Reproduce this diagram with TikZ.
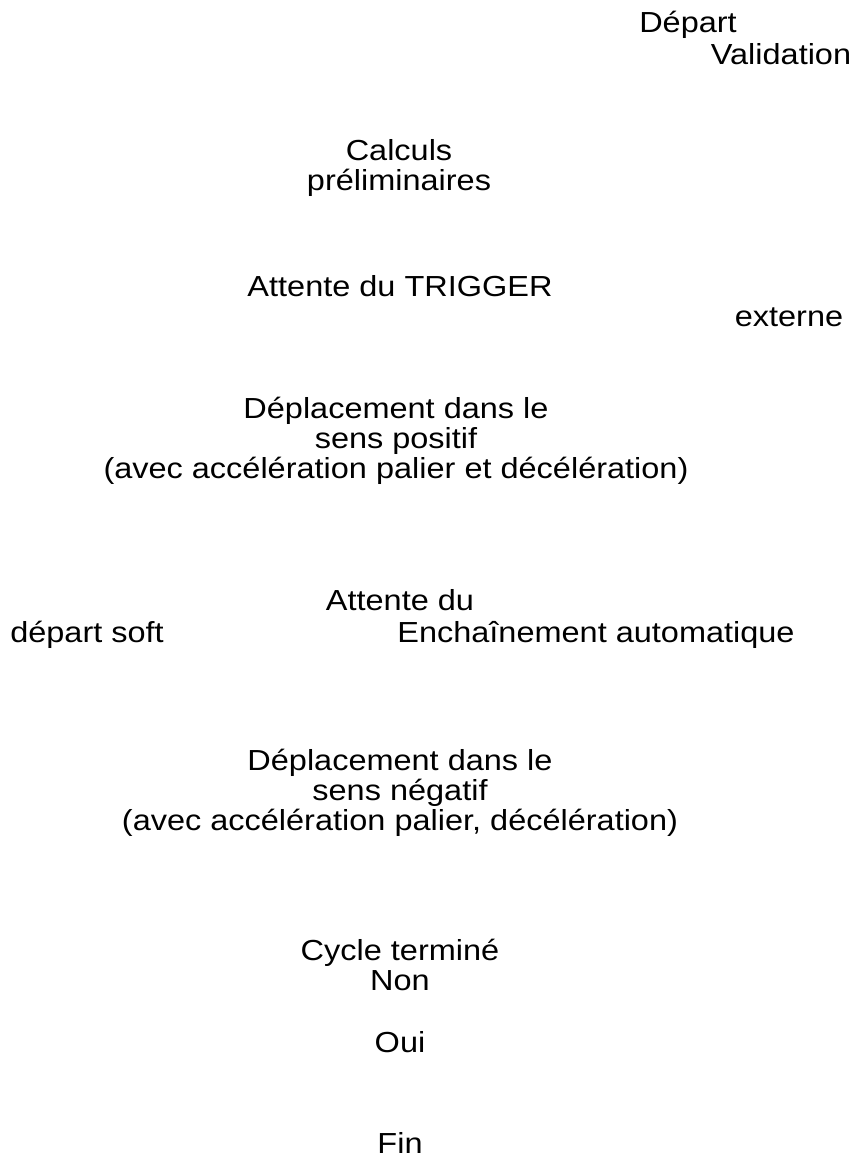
\documentclass[tikz,border=0pt]{standalone}
\usepackage{fontspec}
\setmainfont[FakeStretch=1.12]{Liberation Sans}
\usetikzlibrary{positioning}

\begin{document}
\begin{tikzpicture}[x=0.5pt,y=-0.5pt,
        lbl/.style={inner sep=0pt, align=center, font=\fontsize{14.5}{15}\selectfont},
        lbase/.style={lbl, anchor=base}]
        \useasboundingbox (0,0) rectangle (859,1159);
        \node[lbase] (dep) at (688,33) {Départ};
        \node[lbase] (valid) at (781,65) {Validation};
        \node[lbl] (calc) at (399,168.5) {Calculs\\préliminaires};
        \node[lbase] (trig) at (400,297) {Attente du TRIGGER};
        \node[lbase] (ext) at (789,327) {externe};
        \node[lbl] (dpos) at (396,440.5) {Déplacement dans le\\sens positif\\(avec accélération palier et décélération)};
        % attente du depart soft, enchainement auto
        \node[lbase] (att) at (400,610) {Attente du};
        \node[lbase] (soft) at (87,642) {départ soft};
        \node[lbase] (auto) at (596,642) {Enchaînement automatique};
        \node[lbl] (dneg) at (400,792.5) {Déplacement dans le\\sens négatif\\(avec accélération palier, décélération)};
        \node[lbase] (cycle) at (400,960) {Cycle terminé};
        \node[lbase] (non) at (400,990) {Non};
        \node[lbase] (oui) at (400,1052) {Oui};
        \node[lbase] (fin) at (400,1153) {Fin};
    \end{tikzpicture}
\end{document}
